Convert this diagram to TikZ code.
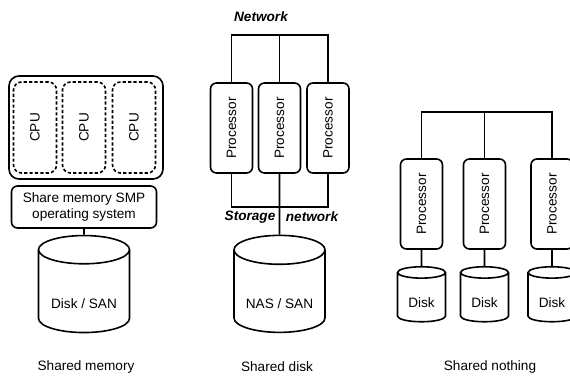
\documentclass[tikz,border=0pt]{standalone}
\usepackage{fontspec}
\setmainfont{Liberation Sans}
\usetikzlibrary{shapes.geometric}

\tikzset{
  box/.style={draw, rounded corners=3pt, inner sep=1pt},
  cpubox/.style={draw, dashed, dash pattern=on 1.6pt off 1.1pt, rounded corners=4pt,
    minimum width=21.5pt, minimum height=45.5pt, inner sep=0pt},
  procbox/.style={box, minimum width=21pt, minimum height=45pt},
  disk/.style={cylinder, draw, shape border rotate=90, aspect=0.43, inner sep=0pt},
  netlbl/.style={font=\fontsize{6.8}{8}\selectfont\bfseries\itshape},
}
\newcommand{\disktext}[2]{\raisebox{#1}[0pt][0pt]{#2}}

\begin{document}
\begin{tikzpicture}[x=0.5pt, y=-0.5pt, line width=0.8pt,
  every node/.append style={font=\fontsize{6.8}{8}\selectfont}]
\useasboundingbox (0,0) rectangle (570,377);

% shared memory
\node[box, rounded corners=5pt, minimum width=77pt, minimum height=51.5pt] (smp) at (86,127.5) {};
\foreach \x/\n in {35/c1, 84/c2, 134/c3}
  \node[cpubox] (\n) at (\x,127.5) {\rotatebox{90}{CPU}};
\node[box, minimum width=72.5pt, minimum height=21pt, align=center] (os) at (84,207) {Share memory SMP\\operating system};
\node[disk, minimum width=45.5pt, minimum height=48.5pt] (san) at (84,291.5) {\disktext{-8.5pt}{Disk / SAN}};
\draw (os.south) -- (san.north);
\node (smplbl) at (86,367) {Shared memory};

% shared disk
\node[netlbl] (net) at (261,17) {Network};
\coordinate (bus1) at (0,35);
\coordinate (bus2) at (0,207);
\foreach \x/\n in {231.5/p1, 279.5/p2, 328/p3}
  \node[procbox] (\n) at (\x,128) {\rotatebox{90}{Processor}};
\draw (p1.north) |- (bus1 -| p3.north) -- (p3.north);
\draw (p2.north) -- (p2.north |- bus1);
\draw (p1.south) |- (bus2 -| p3.south) -- (p3.south);
\node[netlbl] (stor) at (250,217) {Storage};
\node[netlbl] (snet) at (312,217) {network};
\node[disk, minimum width=45.5pt, minimum height=48.5pt] (nas) at (279.5,291.5) {\disktext{-8.5pt}{NAS / SAN}};
\draw (p2.south) -- (nas.north);
\node (sdlbl) at (277,367) {Shared disk};

% shared nothing
\coordinate (bus3) at (0,112);
\foreach \x/\n in {421.5/1, 484.5/2, 552/3} {
  \node[procbox] (q\n) at (\x,204) {\rotatebox{90}{Processor}};
  \node[disk, minimum width=24pt, minimum height=27.5pt] (d\n) at (\x,297.5) {\disktext{-5pt}{Disk}};
  \draw (q\n.south) -- (d\n.north);
}
\draw (q1.north) |- (bus3 -| q3.north) -- (q3.north);
\draw (q2.north) -- (q2.north |- bus3);
\node (snlbl) at (490,367) {Shared nothing};

\end{tikzpicture}
\end{document}
